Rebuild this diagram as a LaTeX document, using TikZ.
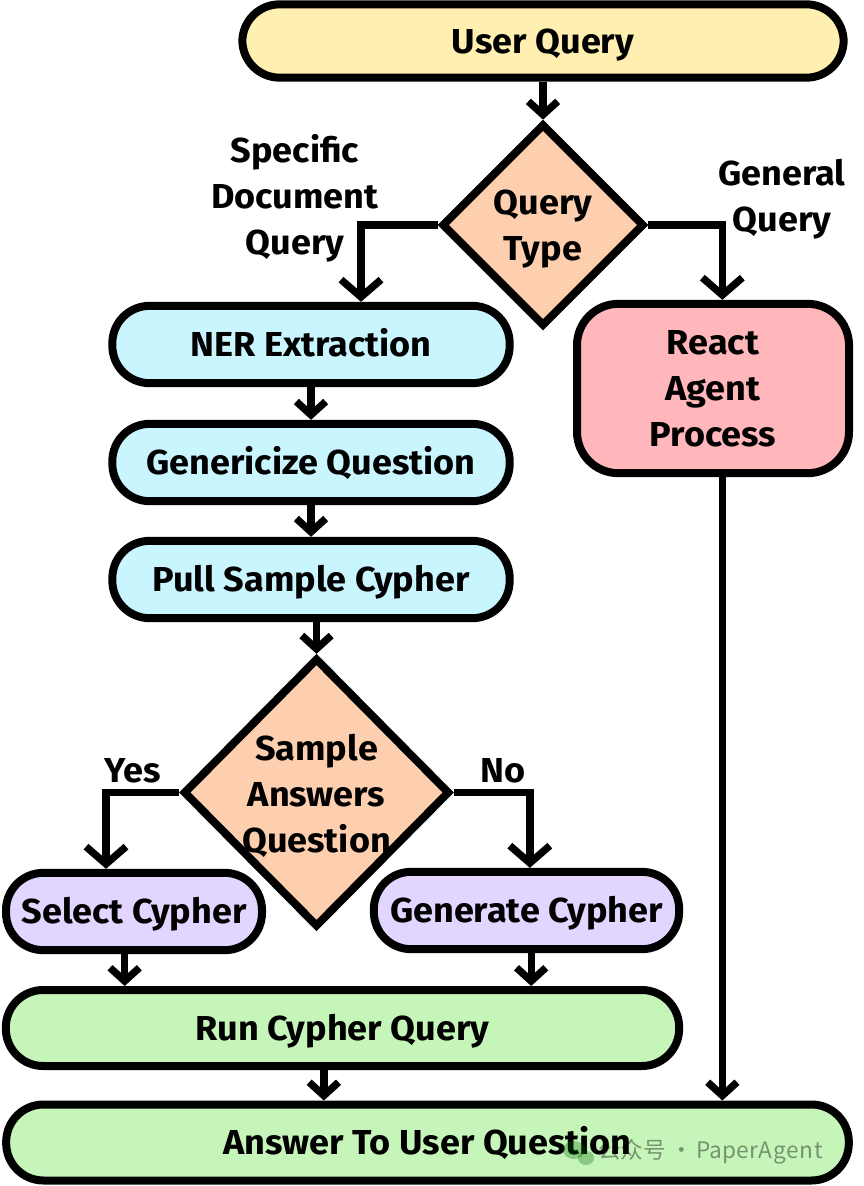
\documentclass[tikz,border=0pt]{standalone}
\usepackage{fontspec}
\setmainfont{Fira Sans}[FakeStretch=1.04]
\newfontfamily\cjk{Noto Sans CJK SC}
\usetikzlibrary{arrows.meta,shapes.geometric}
\definecolor{cYellow}{HTML}{FFEFB0}
\definecolor{cPeach}{HTML}{FDCFAF}
\definecolor{cCyan}{HTML}{C9F5FF}
\definecolor{cPink}{HTML}{FFB7BB}
\definecolor{cLav}{HTML}{E2D5FF}
\definecolor{cGreen}{HTML}{C6F5B9}
\tikzset{
  txt/.style={font=\bfseries\fontsize{26}{34.5}\selectfont, align=center, inner sep=0pt},
  pill/.style={txt, draw=black, line width=6pt, rounded corners=28pt, rectangle},
  one/.style={text height=18pt, text depth=0pt},
  dia/.style={draw=black, line width=6pt, diamond, inner sep=0pt, fill=cPeach},
  arr/.style={draw=black, line width=5.5pt, -{Straight Barb[length=10pt,width=22pt]}},
  arrL/.style={draw=black, line width=5.5pt, -{Straight Barb[length=13pt,width=30pt]}},
  lbl/.style={txt},
}
\begin{document}
\begin{tikzpicture}[x=0.75pt,y=-0.75pt]
\useasboundingbox (0,0) rectangle (864,1186);

% nodes
\node[pill, one, fill=cYellow, minimum width=451pt, minimum height=55pt] (uq) at (543,41) {User Query};
\node[dia, minimum width=152pt, minimum height=152pt] (qt) at (543,225) {};
\node[lbl] (qtl) at (543,229) {Query\\Type};

\node[pill, one, fill=cCyan, minimum width=298pt, minimum height=58pt] (ner) at (311,344.5) {NER Extraction};
\node[pill, one, fill=cCyan, minimum width=298pt, minimum height=58pt] (gq) at (311,462.5) {Genericize Question};
\node[pill, one, fill=cCyan, minimum width=298pt, minimum height=58pt] (ps) at (311,579.5) {Pull Sample Cypher};

\node[pill, fill=cPink, rounded corners=31pt, minimum width=204pt, minimum height=127pt] (ra) at (713,388.5) {React\\Agent\\Process};

\node[dia, minimum width=200pt, minimum height=202pt] (sa) at (316.5,792.5) {};
\node[lbl] (sal) at (316.5,796) {Sample\\Answers\\Question};

\node[pill, one, fill=cLav, minimum width=192pt, minimum height=58pt] (sel) at (134,911.5) {Select Cypher};
\node[pill, one, fill=cLav, minimum width=229pt, minimum height=58pt] (gen) at (526.5,910.5) {Generate Cypher};
\node[pill, one, fill=cGreen, minimum width=505pt, minimum height=57pt] (run) at (342.5,1028) {Run Cypher Query};
\node[pill, one, fill=cGreen, minimum width=632pt, minimum height=57pt] (ans) at (427.5,1142.5) {Answer To User Question};

% labels
\node[lbl] (lspec) at (295,198) {Specific\\Document\\Query};
\node[lbl] (lgen) at (782,199) {General\\Query};
\node[lbl] (lyes) at (133,771) {Yes};
\node[lbl] (lno) at (503,771) {No};

% helper coordinates
\coordinate (nerIn) at ([xshift=37.5pt]ner.north);
\coordinate (raIn) at ([xshift=7pt]ra.north);
\coordinate (raOut) at ([xshift=7pt]ra.south);
\coordinate (selIn) at ([xshift=-21pt]sel.north);
\coordinate (genIn) at ([xshift=2.5pt]gen.north);
\coordinate (selOut) at ([xshift=-7pt]sel.south);
\coordinate (genOut) at ([xshift=3.5pt]gen.south);
\coordinate (runOut) at ([xshift=-14pt]run.south);
\coordinate (psOut) at (ps.south -| sa.north);

% connectors
\draw[arr] (uq) -- (qt);
\draw[arrL] (qt.west) -| (nerIn);
\draw[arrL] (qt.east) -| (raIn);
\draw[arr] (ner) -- (gq);
\draw[arr] (gq) -- (ps);
\draw[arr] (psOut) -- (sa.north);
\draw[arrL] (sa.west) -| (selIn);
\draw[arrL] (sa.east) -| (genIn);
\draw[arr] (selOut) -- (selOut |- run.north);
\draw[arr] (genOut) -- (genOut |- run.north);
\draw[arr] (runOut) -- (runOut |- ans.north);
\draw[arr] (raOut) -- (raOut |- ans.north);

% watermark
\fill[black!60!green, fill opacity=0.3] (574,1150) ellipse [x radius=11, y radius=9];
\fill[black!60!green, fill opacity=0.3] (586,1158) ellipse [x radius=8, y radius=7];
\node[anchor=west, inner sep=0pt, text=black, text opacity=0.4, font=\cjk\fontsize{17}{19}\selectfont] (wm) at (598,1152) {公众号\,·\,Paper\kern0.5ptA\kern0.5ptg\kern0.5pte\kern0.5ptn\kern0.5ptt};
\end{tikzpicture}
\end{document}
